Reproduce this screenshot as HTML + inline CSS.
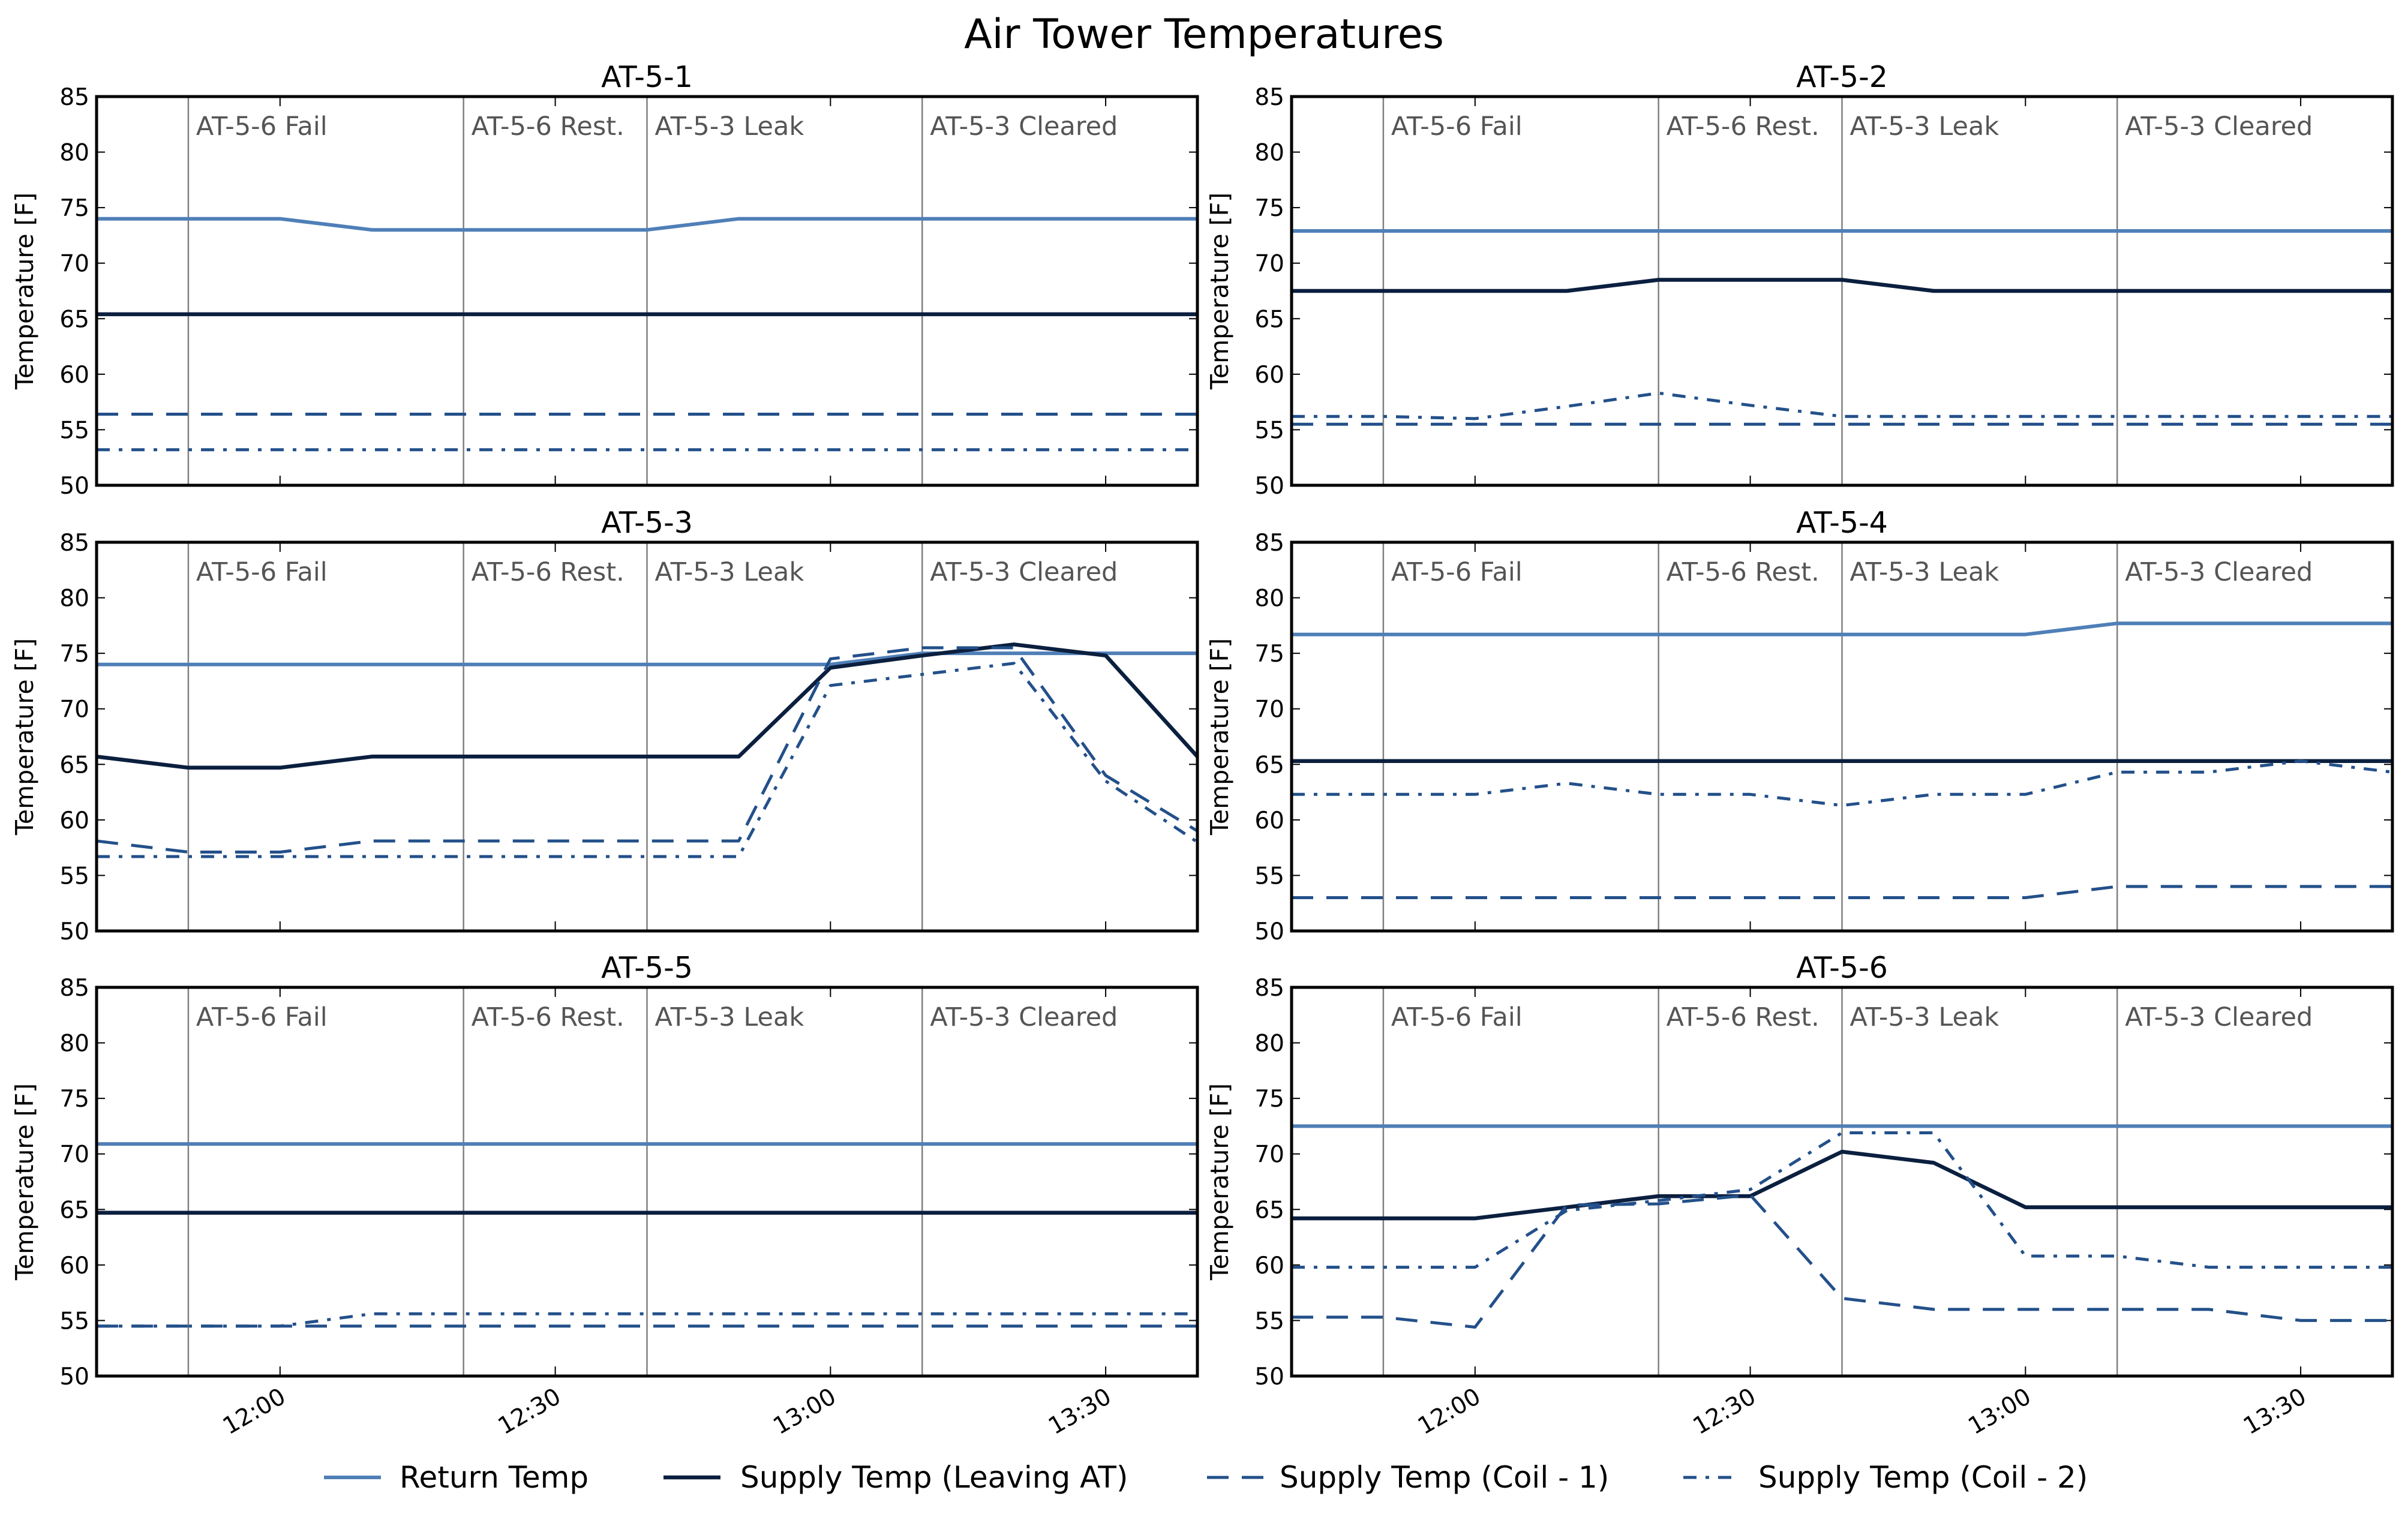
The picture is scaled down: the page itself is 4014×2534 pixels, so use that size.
<!DOCTYPE html>
<html><head><meta charset="utf-8"><style>
html,body{margin:0;padding:0;background:#fff;}
svg{display:block;font-family:"DejaVu Sans","Liberation Sans",sans-serif;}
</style></head><body>
<svg id="chart" width="4014" height="2534" viewBox="0 0 4014 2534" xmlns="http://www.w3.org/2000/svg">
<text x="2007" y="80" font-size="68" text-anchor="middle">Air Tower Temperatures</text>
<g id="panels"></g>
<g id="legend"></g>
</svg>
<script>
// time in minutes after 11:40, one point every 10 minutes
const times = [0,10,20,30,40,50,60,70,80,90,100,110,120];
const panelTitles = ["AT-5-1","AT-5-2","AT-5-3","AT-5-4","AT-5-5","AT-5-6"];
const returnTemp = [
 [74,74,74,73,73,73,73,74,74,74,74,74,74],
 [72.9,72.9,72.9,72.9,72.9,72.9,72.9,72.9,72.9,72.9,72.9,72.9,72.9],
 [74,74,74,74,74,74,74,74,74,75,75,75,75],
 [76.7,76.7,76.7,76.7,76.7,76.7,76.7,76.7,76.7,77.7,77.7,77.7,77.7],
 [70.9,70.9,70.9,70.9,70.9,70.9,70.9,70.9,70.9,70.9,70.9,70.9,70.9],
 [72.5,72.5,72.5,72.5,72.5,72.5,72.5,72.5,72.5,72.5,72.5,72.5,72.5]];
const supplyTemp = [
 [65.4,65.4,65.4,65.4,65.4,65.4,65.4,65.4,65.4,65.4,65.4,65.4,65.4],
 [67.5,67.5,67.5,67.5,68.5,68.5,68.5,67.5,67.5,67.5,67.5,67.5,67.5],
 [65.7,64.7,64.7,65.7,65.7,65.7,65.7,65.7,73.7,74.8,75.8,74.8,65.7],
 [65.3,65.3,65.3,65.3,65.3,65.3,65.3,65.3,65.3,65.3,65.3,65.3,65.3],
 [64.7,64.7,64.7,64.7,64.7,64.7,64.7,64.7,64.7,64.7,64.7,64.7,64.7],
 [64.2,64.2,64.2,65.2,66.2,66.2,70.2,69.2,65.2,65.2,65.2,65.2,65.2]];
const coil1Temp = [
 [56.4,56.4,56.4,56.4,56.4,56.4,56.4,56.4,56.4,56.4,56.4,56.4,56.4],
 [55.5,55.5,55.5,55.5,55.5,55.5,55.5,55.5,55.5,55.5,55.5,55.5,55.5],
 [58.1,57.1,57.1,58.1,58.1,58.1,58.1,58.1,74.5,75.5,75.5,64,59],
 [53,53,53,53,53,53,53,53,53,54,54,54,54],
 [54.5,54.5,54.5,54.5,54.5,54.5,54.5,54.5,54.5,54.5,54.5,54.5,54.5],
 [55.3,55.3,54.4,65.4,65.5,66.3,57,56,56,56,56,55,55]];
const coil2Temp = [
 [53.2,53.2,53.2,53.2,53.2,53.2,53.2,53.2,53.2,53.2,53.2,53.2,53.2],
 [56.2,56.2,56.0,57.1,58.3,57.2,56.2,56.2,56.2,56.2,56.2,56.2,56.2],
 [56.7,56.7,56.7,56.7,56.7,56.7,56.7,56.7,72.1,73.1,74.1,63.5,58],
 [62.3,62.3,62.3,63.3,62.3,62.3,61.3,62.3,62.3,64.3,64.3,65.3,64.3],
 [54.5,54.5,54.5,55.6,55.6,55.6,55.6,55.6,55.6,55.6,55.6,55.6,55.6],
 [59.8,59.8,59.8,64.9,65.8,66.8,71.9,71.9,60.8,60.8,59.8,59.8,59.8]];
const eventTimes = [10,40,60,90];
const eventLabels = ["AT-5-6 Fail","AT-5-6 Rest.","AT-5-3 Leak","AT-5-3 Cleared"];
const yTicks = [50,55,60,65,70,75,80,85];
const xTickTimes = [20,50,80,110];
const xTickLabels = ["12:00","12:30","13:00","13:30"];
const legendLabels = ["Return Temp","Supply Temp (Leaving AT)","Supply Temp (Coil - 1)","Supply Temp (Coil - 2)"];

const NS="http://www.w3.org/2000/svg";
const styles=[
 {c:"#4f7fb7",w:6,d:""},
 {c:"#0b1f3f",w:6.5,d:""},
 {c:"#23508a",w:5,d:"36,22"},
 {c:"#23508a",w:5,d:"22,15,6,15"}];
const colX=[161,2153], W=1835, rowY=[161,904,1646], H=648;
function mk(tag,attrs,parent){const e=document.createElementNS(NS,tag);for(const k in attrs)e.setAttribute(k,attrs[k]);parent.appendChild(e);return e;}
const root=document.getElementById("panels");
const seriesAll=[returnTemp,supplyTemp,coil1Temp,coil2Temp];
const seriesNames=["return-temp-line","supply-temp-line","coil-1-line","coil-2-line"];
panelTitles.forEach((t,i)=>{
  const x0=colX[i%2], y0=rowY[Math.floor(i/2)];
  const sx=m=>x0+m/120*W, sy=v=>y0+H-(v-50)/35*H;
  const g=mk("g",{},root);
  
  
  const tt=mk("text",{x:x0+W/2,y:y0-16,"font-size":49,"text-anchor":"middle"},g);
  
  
  tt.textContent=t;
  const yl=mk("text",{x:0,y:0,"font-size":41,"text-anchor":"middle",transform:`translate(${x0-106},${y0+H/2}) rotate(-90)`},g);
  
  
  yl.textContent="Temperature [F]";
  eventTimes.forEach((m,k)=>{
    const l=mk("line",{x1:sx(m),x2:sx(m),y1:y0,y2:y0+H,stroke:"#808080","stroke-width":2.5},g);
    
    
    const et=mk("text",{x:sx(m)+13,y:y0+64,"font-size":43,fill:"#555"},g);
    
    
    et.textContent=eventLabels[k];
  });
  yTicks.forEach(v=>{
    const y=sy(v);
    mk("line",{x1:x0,x2:x0+14,y1:y,y2:y,stroke:"#000","stroke-width":2},g);
    mk("line",{x1:x0+W-14,x2:x0+W,y1:y,y2:y,stroke:"#000","stroke-width":2},g);
    const tl=mk("text",{x:x0-12,y:y+14,"font-size":39,"text-anchor":"end"},g);
    
    
    tl.textContent=v;
  });
  xTickTimes.forEach((m,k)=>{
    const x=sx(m);
    mk("line",{x1:x,x2:x,y1:y0,y2:y0+16,stroke:"#000","stroke-width":2},g);
    mk("line",{x1:x,x2:x,y1:y0+H-16,y2:y0+H,stroke:"#000","stroke-width":2},g);
    if(i>=4){
      const xl=mk("text",{x:0,y:0,"font-size":39,"text-anchor":"end",transform:`translate(${x+12},${y0+H+42}) rotate(-30)`},g);
      
      
      xl.textContent=xTickLabels[k];
    }
  });
  const cp="clip"+i;
  const cl=mk("clipPath",{id:cp},g); mk("rect",{x:x0,y:y0,width:W,height:H},cl);
  seriesAll.forEach((s,k)=>{
    const pts=times.map((m,j)=>sx(m).toFixed(1)+","+sy(s[i][j]).toFixed(1)).join(" ");
    const st=styles[k];
    const p=mk("polyline",{points:pts,fill:"none",stroke:st.c,"stroke-width":st.w,"stroke-linejoin":"round","clip-path":`url(#${cp})`},g);
    if(st.d)p.setAttribute("stroke-dasharray",st.d);
    
    
  });
  const fr=mk("rect",{x:x0,y:y0,width:W,height:H,fill:"none",stroke:"#000","stroke-width":5},g);
  
  
});
const lg=document.getElementById("legend");
const legX=[540,1106,2012,2806], legTX=[666,1234,2133,2931];
legendLabels.forEach((lab,k)=>{
  const st=styles[k];
  const g=mk("g",{},lg);
  
  
  const l=mk("line",{x1:legX[k],x2:legX[k]+95,y1:2463,y2:2463,stroke:st.c,"stroke-width":st.w},g);
  if(st.d)l.setAttribute("stroke-dasharray",st.d);
  const t=mk("text",{x:legTX[k],y:2480,"font-size":50},g);
  t.textContent=lab;
});
</script>
</body></html>
